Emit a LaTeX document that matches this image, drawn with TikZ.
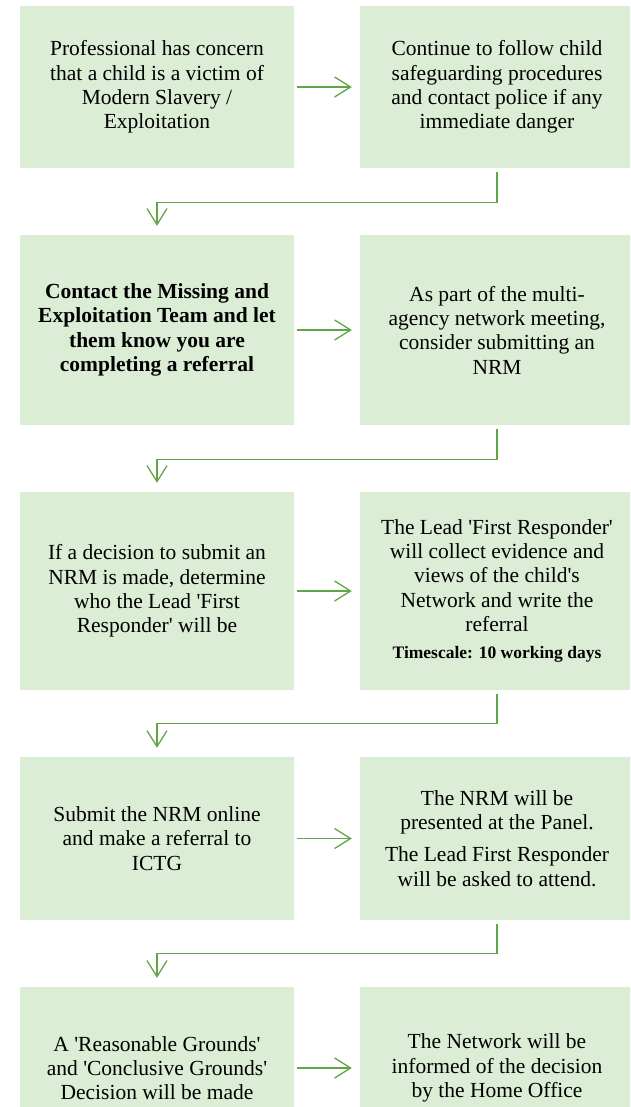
\documentclass[tikz,border=0pt]{standalone}
\usepackage{fontspec}
\setmainfont{Liberation Serif}
\usetikzlibrary{arrows.meta}

\definecolor{boxgreen}{RGB}{219,237,212}
\definecolor{linegreen}{RGB}{96,165,70}

\tikzset{
  stepbox/.style={fill=boxgreen, minimum width=274pt, inner sep=0pt, align=center,
    font=\fontsize{21.5}{24.3}\selectfont},
  flow/.style={draw=linegreen, line width=1.3pt, -{Straight Barb[length=16pt,width=20pt]}},
}

\begin{document}
\begin{tikzpicture}[x=1pt, y=-1pt]

\useasboundingbox (0,0) rectangle (630,1107);
\clip (0,0) rectangle (630,1107);

% row 1
\node[stepbox, minimum height=162pt] (concern) at (157,87)
  {Professional has concern\\that a child is a victim of\\Modern Slavery /\\Exploitation};
\node[stepbox, minimum height=162pt] (safeguard) at (497,87)
  {Continue to follow child\\safeguarding procedures\\and contact police if any\\immediate danger};

% row 2
\node[stepbox, minimum height=190pt] (contact) at (157,330)
  {\bfseries Contact the Missing and\\\bfseries Exploitation Team and let\\\bfseries them know you are\\\bfseries completing a referral};
\node[stepbox, minimum height=190pt] (network) at (497,330)
  {As part of the multi-\\agency network meeting,\\consider submitting an\\NRM};

% row 3
\node[stepbox, minimum height=198pt] (decide) at (157,591)
  {If a decision to submit an\\NRM is made, determine\\who the Lead \textquotesingle First\\Responder\textquotesingle{} will be};
\node[stepbox, minimum height=198pt] (collect) at (497,591)
  {The Lead \textquotesingle First Responder\textquotesingle\\will collect evidence and\\views of the child\textquotesingle s\\Network and write the\\referral\\[3pt]
   {\fontsize{17.5}{20}\selectfont\bfseries Timescale: 10 working days}};

% row 4
\node[stepbox, minimum height=163pt] (submit) at (157,838.5)
  {Submit the NRM online\\and make a referral to\\ICTG};
\node[stepbox, minimum height=163pt] (panel) at (497,838.5)
  {The NRM will be\\presented at the Panel.\\[8pt]The Lead First Responder\\will be asked to attend.};

% row 5
\node[stepbox, minimum height=162pt] (grounds) at (157,1068)
  {A \textquotesingle Reasonable Grounds\textquotesingle\\and \textquotesingle Conclusive Grounds\textquotesingle\\Decision will be made};
\node[stepbox, minimum height=162pt] (inform) at (497,1068)
  {The Network will be\\informed of the decision\\by the Home Office};

% across
\draw[flow, shorten <=3pt, shorten >=8pt] (concern) -- (safeguard);
\draw[flow, shorten <=3pt, shorten >=8pt] (contact) -- (network);
\draw[flow, shorten <=3pt, shorten >=8pt] (decide) -- (collect);
\draw[flow, shorten <=3pt, shorten >=8pt] (submit) -- (panel);
\draw[flow, shorten <=3pt, shorten >=8pt] (grounds) -- (inform);

% down to next row
\draw[flow, shorten <=4pt, shorten >=9pt] (safeguard.south) -- ++(0,34) -| (contact.north);
\draw[flow, shorten <=4pt, shorten >=9pt] (network.south) -- ++(0,34) -| (decide.north);
\draw[flow, shorten <=4pt, shorten >=9pt] (collect.south) -- ++(0,33) -| (submit.north);
\draw[flow, shorten <=4pt, shorten >=9pt] (panel.south) -- ++(0,33) -| (grounds.north);

\end{tikzpicture}
\end{document}
